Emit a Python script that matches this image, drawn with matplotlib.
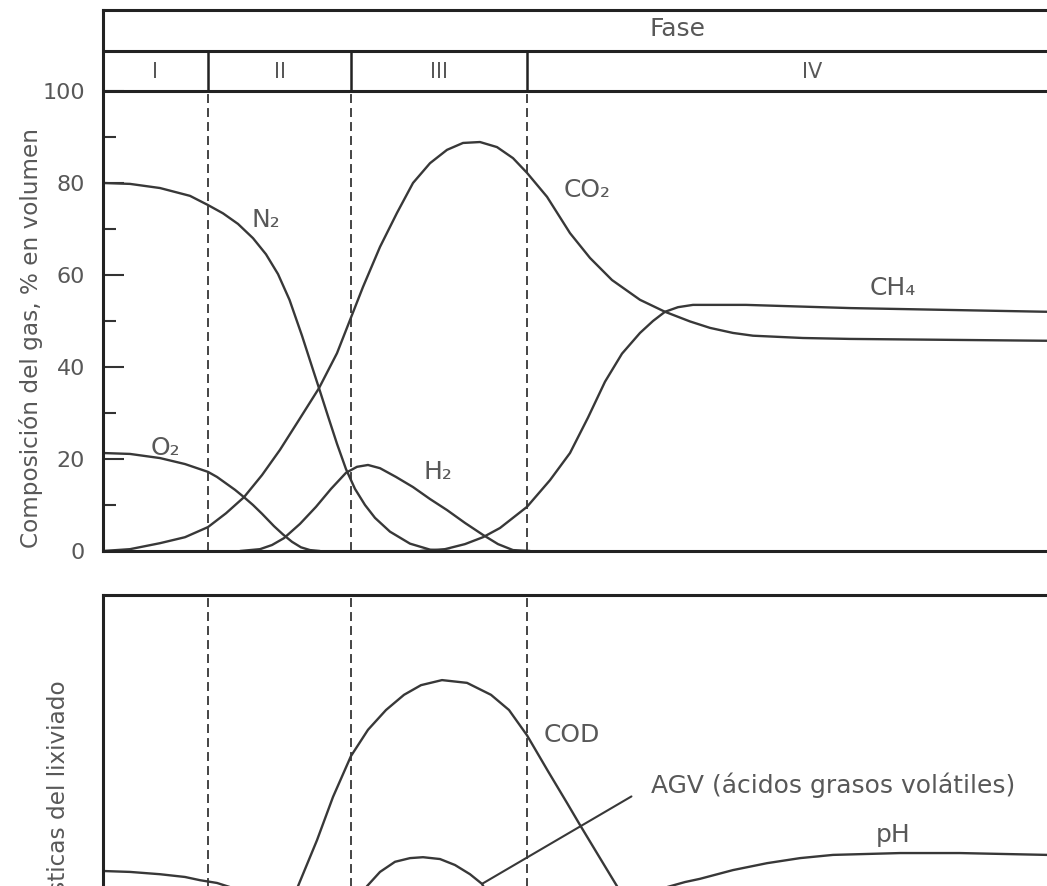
import numpy as np
import matplotlib.pyplot as plt

# eje x: tiempo (unidades arbitrarias), limites de fase
limites_fase = [10.5, 24.8, 42.4]
fases = ["I", "II", "III", "IV"]
fases_t = [5.25, 17.65, 33.6, 70.9]

# composicion del gas (% en volumen)
co2_t = [0, 2.7, 5.7, 8.2, 10.5, 12.3, 14.1, 15.9, 17.7, 19.6, 21.6, 23.4, 24.7, 26.0, 27.7,
         29.4, 31.0, 32.7, 34.4, 36.0, 37.7, 39.4, 41.0, 42.4, 44.4, 46.7, 48.7, 50.9, 53.7,
         56.2, 58.7, 60.7, 63.0, 65.0, 70.0, 74.7, 94.4, 100]
co2_v = [0, 0.4, 1.7, 3.0, 5.2, 8.2, 11.7, 16.5, 22.0, 28.5, 35.4, 43.0, 50.2, 57.4, 66.1,
         73.5, 80.0, 84.3, 87.2, 88.7, 88.9, 87.8, 85.4, 82.2, 77.0, 69.1, 63.7, 58.9, 54.6,
         52.0, 49.9, 48.5, 47.4, 46.8, 46.3, 46.1, 45.7, 45.6]

n2_t = [0, 2.7, 5.7, 8.7, 10.5, 12.0, 13.5, 15.0, 16.3, 17.5, 18.65, 19.9, 21.0, 21.6, 22.5,
        23.4, 24.3, 25.2, 26.2, 27.2, 28.7, 30.7, 32.7, 34.7]
n2_v = [80, 79.8, 78.9, 77.2, 75.2, 73.4, 71.1, 68.0, 64.5, 60.2, 54.6, 46.8, 39.4, 35.4, 29.3,
        23.3, 17.8, 13.5, 10.0, 7.2, 4.2, 1.6, 0.3, 0]

o2_t = [0, 2.7, 5.7, 8.2, 10.5, 11.4, 12.3, 13.2, 14.1, 15.0, 15.9, 17.1, 18.0, 18.9, 19.8,
        20.7, 21.7]
o2_v = [21.3, 21.1, 20.2, 18.9, 17.2, 16.1, 14.7, 13.3, 11.7, 10.0, 8.1, 5.4, 3.6, 2.0, 0.8,
        0.2, 0]

h2_t = [13.7, 15.7, 16.9, 18.1, 19.7, 21.3, 22.8, 24.3, 25.4, 26.5, 27.7, 29.3, 31.0, 32.7, 34.4,
        36.2, 38.0, 39.5, 41.0, 42.7]
h2_v = [0, 0.4, 1.3, 2.8, 5.9, 9.6, 13.5, 17.0, 18.3, 18.7, 18.0, 16.1, 13.9, 11.3, 8.9,
        6.1, 3.5, 1.5, 0.2, 0]

ch4_t = [31.7, 34.2, 36.2, 38.0, 39.7, 42.4, 44.7, 46.7, 48.5, 50.2, 51.9, 53.7, 55.0, 56.2,
         57.5, 59.0, 64.3, 74.8, 94.4, 100]
ch4_v = [0, 0.4, 1.5, 3.0, 5.0, 9.6, 15.4, 21.3, 29.0, 36.8, 42.9, 47.4, 50.0, 52.0,
         53.0, 53.5, 53.5, 52.8, 52.0, 51.9]

# caracteristicas del lixiviado (escala relativa)
cod_t = [18.7, 19.5, 21.4, 23.0, 24.8, 26.5, 28.3, 30.1, 31.8, 33.9, 36.4, 38.8, 40.6, 42.4,
         44.5, 46.4, 47.7, 49.7, 51.4, 52.2]
cod_v = [31.5, 36.7, 46.7, 56.1, 65.0, 70.7, 75.0, 78.3, 80.4, 81.5, 80.9, 78.3, 75.0, 69.5,
         61.7, 54.8, 50.0, 42.8, 36.7, 32.6]

agv_t = [25.5, 26.4, 27.7, 29.2, 30.7, 32.0, 33.7, 35.2, 36.7, 37.9, 38.7]
agv_v = [33.7, 36.7, 39.8, 42.0, 42.8, 43.0, 42.6, 41.3, 39.3, 37.2, 34.1]

ph_t = [0, 2.7, 5.7, 8.2, 9.7, 11.4, 12.7, 14.2, np.nan, 55.2, 56.4, 58.2, 59.7, 63.0, 66.4,
        69.7, 73.0, 79.7, 85.7, 94.4, 100]
ph_v = [40.0, 39.8, 39.3, 38.7, 38.0, 37.4, 36.5, 34.8, np.nan, 34.6, 36.5, 37.6, 38.3, 40.2, 41.7,
        42.8, 43.5, 43.9, 43.9, 43.5, 43.5]

W, H = 1047, 886
LC = "#383838"   # color de lineas
TC = "#585858"   # color de textos
FS = 18          # rotulos de curvas
dash = (0, (4.6, 2.6))

fig = plt.figure(figsize=(W / 100, H / 100), dpi=100)

# ---- panel superior: gas ----
ax1 = fig.add_axes([103 / W, (H - 551) / H, 1000 / W, 541 / H])
ax1.set_xlim(0, 100)
ax1.set_ylim(0, 117.6)
for s in ["left", "top", "bottom", "right"]:
    ax1.spines[s].set_linewidth(2.2)
    ax1.spines[s].set_color("#222222")

ax1.axhline(100, color="#222222", lw=2.2)
ax1.axhline(108.7, color="#222222", lw=2.2)
ax1.vlines(limites_fase, 100, 108.7, color="#222222", lw=1.8)
ax1.vlines(limites_fase, 0, 100, color="#444444", lw=1.4, linestyles=dash)

ax1.text(57.4, 113.5, "Fase", ha="center", va="center", fontsize=FS, color=TC)
for x, f in zip(fases_t, fases):
    ax1.text(x, 104.1, f, ha="center", va="center", fontsize=15, color=TC)

for t, v in [(co2_t, co2_v), (n2_t, n2_v), (o2_t, o2_v), (h2_t, h2_v), (ch4_t, ch4_v)]:
    ax1.plot(t, v, color=LC, lw=1.7, solid_joinstyle="round", solid_capstyle="round")

ax1.text(6.2, 22.4, "O₂", ha="center", va="center", fontsize=FS, color=TC)
ax1.text(16.3, 72.0, "N₂", ha="center", va="center", fontsize=FS, color=TC)
ax1.text(33.5, 17.2, "H₂", ha="center", va="center", fontsize=FS, color=TC)
ax1.text(48.4, 78.5, "CO₂", ha="center", va="center", fontsize=FS, color=TC)
ax1.text(79.0, 57.2, "CH₄", ha="center", va="center", fontsize=FS, color=TC)

ax1.set_xticks([])
ax1.set_yticks([0, 20, 40, 60, 80, 100])
ax1.set_yticks([10, 30, 50, 70, 90], minor=True)
ax1.tick_params(axis="y", which="major", direction="in", length=15, width=1.5,
                pad=13, labelsize=16, labelcolor=TC, color="#333333")
ax1.tick_params(axis="y", which="minor", direction="in", length=9.5, width=1.5, color="#333333")

fig.text(31 / W, 1 - 338 / H, "Composición del gas, % en volumen", rotation=90,
         ha="center", va="center", fontsize=16.7, color=TC)

# ---- panel inferior: lixiviado ----
ax2 = fig.add_axes([103 / W, (H - 1055) / H, 1000 / W, 460 / H])
ax2.set_xlim(0, 100)
ax2.set_ylim(0, 100)
for s in ["left", "top", "bottom", "right"]:
    ax2.spines[s].set_linewidth(2.2)
    ax2.spines[s].set_color("#222222")
ax2.set_xticks([])
ax2.set_yticks([])
ax2.vlines(limites_fase, 0, 100, color="#444444", lw=1.4, linestyles=dash)

for t, v in [(cod_t, cod_v), (agv_t, agv_v), (ph_t, ph_v)]:
    ax2.plot(t, v, color=LC, lw=1.7, solid_joinstyle="round", solid_capstyle="round")

ax2.text(44.1, 69.6, "COD", ha="left", va="center", fontsize=FS, color=TC)
ax2.text(79.0, 47.8, "pH", ha="center", va="center", fontsize=FS, color=TC)
ax2.annotate("AGV (ácidos grasos volátiles)", xy=(agv_t[9], agv_v[9]), xytext=(54.8, 58.7),
             ha="left", va="center", fontsize=FS, color=TC,
             arrowprops=dict(arrowstyle="-", color=LC, lw=1.5, relpos=(0, 0.5),
                             shrinkA=14, shrinkB=0))

# la etiqueta queda cortada por el borde inferior, igual que en la figura original
fig.text(59 / W, 1 - 680 / H, "Características del lixiviado", rotation=90,
         ha="center", va="top", fontsize=16.7, color=TC)

fig.savefig("out.png", dpi=100)
